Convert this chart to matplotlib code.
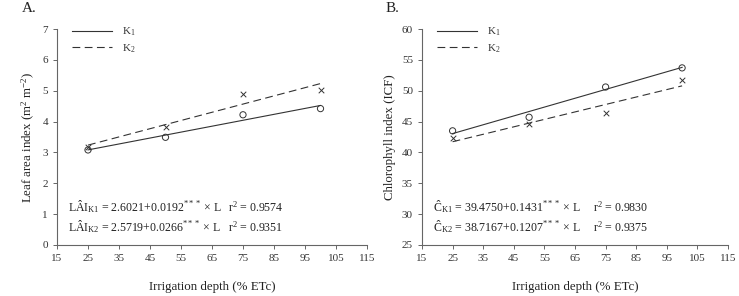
import matplotlib
matplotlib.use("Agg")
import matplotlib.pyplot as plt
import numpy as np

plt.rcParams['font.family'] = ['Liberation Serif', 'DejaVu Serif']
plt.rcParams['mathtext.fontset'] = 'custom'
plt.rcParams['mathtext.rm'] = 'Liberation Serif'
plt.rcParams['mathtext.it'] = 'Liberation Serif:italic'

depth = [25, 50, 75, 100]
lai_k1 = [3.08, 3.49, 4.22, 4.42]
lai_k2 = [3.17, 3.83, 4.88, 5.03]
chl_k1 = [43.5, 45.7, 50.6, 53.7]
chl_k2 = [42.3, 44.6, 46.4, 51.7]
lai_fit_k1 = (2.6021, 0.0192)
lai_fit_k2 = (2.5719, 0.0266)
chl_fit_k1 = (39.4750, 0.1431)
chl_fit_k2 = (38.7167, 0.1207)
xticks = list(range(15, 116, 10))

fig = plt.figure(figsize=(7.39, 2.96), dpi=100)
axA = fig.add_axes([57/739, 1-245/296, 310/739, 216/296])
axB = fig.add_axes([422/739, 1-245/296, 306/739, 216/296])

col = '#333333'

def panel(ax, k1, k2, f1, f2, ylim, yticks, ylabel, eq1, eq2, r1, r2, rx):
    xs = np.array([depth[0], depth[-1]])
    ax.plot(xs, f1[0] + f1[1]*xs, color=col, lw=0.8, label=r'K$_1$')
    ax.plot(xs, f2[0] + f2[1]*xs, color=col, lw=0.8, ls=(0, (7, 4)), label=r'K$_2$')
    ax.scatter(depth, k1, marker='o', s=20, facecolors='none', edgecolors=col, linewidths=0.7, zorder=3)
    ax.scatter(depth, k2, marker='x', s=16, color=col, linewidths=0.7, zorder=3)
    ax.set_xlim(15, 115)
    ax.set_ylim(*ylim)
    ax.set_xticks(xticks)
    ax.set_yticks(yticks)
    for s in ['top', 'right']:
        ax.spines[s].set_visible(False)
    for s in ['left', 'bottom']:
        ax.spines[s].set_color('#666666')
        ax.spines[s].set_linewidth(0.8)
    ax.tick_params(direction='out', length=3, width=0.7, colors='#666666', labelsize=8, labelcolor='#333333')
    ax.set_xlabel('Irrigation depth (% ETc)', fontsize=9.3, color='#222222', labelpad=13)
    ax.set_ylabel(ylabel, fontsize=9.3, color='#222222', labelpad=4)
    leg = ax.legend(loc='upper left', frameon=False, fontsize=8, handlelength=3.6,
                    handletextpad=0.9, borderaxespad=0.0, bbox_to_anchor=(0.035, 1.035),
                    labelspacing=0.35)
    for t in leg.get_texts():
        t.set_color('#333333')
    fs = 8.6
    ax.text(0.035, 0.176, eq1, transform=ax.transAxes, fontsize=fs, color='#222222', va='center')
    ax.text(0.035, 0.083, eq2, transform=ax.transAxes, fontsize=fs, color='#222222', va='center')
    ax.text(rx, 0.176, r1, transform=ax.transAxes, fontsize=fs, color='#222222', va='center')
    ax.text(rx, 0.083, r2, transform=ax.transAxes, fontsize=fs, color='#222222', va='center')

panel(axA, lai_k1, lai_k2, lai_fit_k1, lai_fit_k2, (0, 7), range(0, 8),
      r'Leaf area index (m$^2$ m$^{-2}$)',
      r'LÂI$_{\mathrm{K1}}$ = 2.6021+0.0192$^{***}$ × L',
      r'LÂI$_{\mathrm{K2}}$ = 2.5719+0.0266$^{***}$ × L',
      r'r$^2$ = 0.9574', r'r$^2$ = 0.9351', 0.55)
panel(axB, chl_k1, chl_k2, chl_fit_k1, chl_fit_k2, (25, 60), range(25, 61, 5),
      'Chlorophyll index (ICF)',
      r'Ĉ$_{\mathrm{K1}}$ = 39.4750+0.1431$^{***}$ × L',
      r'Ĉ$_{\mathrm{K2}}$ = 38.7167+0.1207$^{***}$ × L',
      r'r$^2$ = 0.9830', r'r$^2$ = 0.9375', 0.56)

fig.text(22/739, 1-9/296, 'A.', fontsize=11, color='#222222', va='center')
fig.text(386/739, 1-9/296, 'B.', fontsize=11, color='#222222', va='center')

fig.savefig('out.png', dpi=100)
